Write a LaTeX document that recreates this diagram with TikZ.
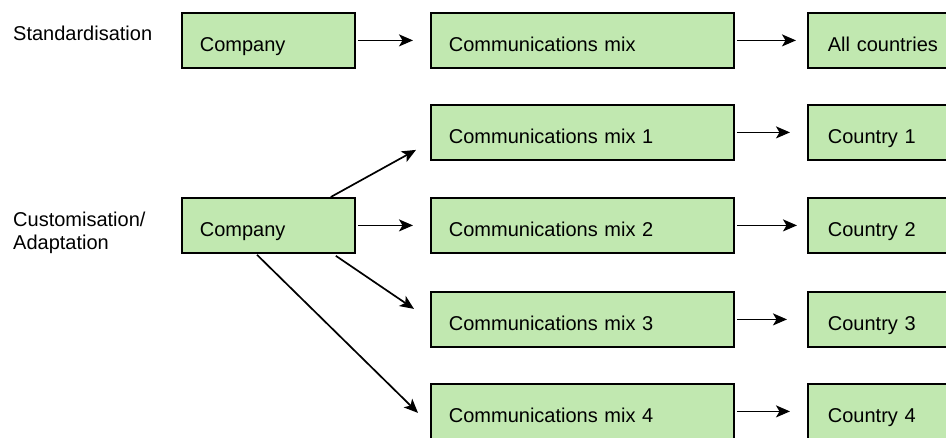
\documentclass[tikz,border=0pt]{standalone}
\usepackage{fontspec}
\setmainfont{Liberation Sans}
\usetikzlibrary{arrows.meta,calc}
\definecolor{boxgreen}{RGB}{193,232,176}
\tikzset{
  box/.style={draw=black, line width=1.8pt, fill=boxgreen, anchor=north west,
    minimum height=55pt, inner xsep=18pt, inner ysep=0pt, align=left,
    text height=22pt, text depth=0pt, font=\fontsize{20}{23}\selectfont},
  companybox/.style={box, minimum width=173pt, text width=137pt},
  mixbox/.style={box, minimum width=303pt, text width=267pt},
  countrybox/.style={box, minimum width=220pt, inner xsep=20pt, text width=180pt},
  rowlabel/.style={anchor=base west, inner sep=0pt, align=left,
    font=\fontsize{20}{23}\selectfont},
  arr/.style={line width=1.7pt, -{Stealth[length=14pt,width=12pt,inset=3.5pt]}}
}
\begin{document}
\begin{tikzpicture}[x=1pt, y=-1pt]
  \path[use as bounding box, clip] (0,0) rectangle (946,437);

  % row labels (base anchor sits on the last line)
  \node[rowlabel] (lstd) at (13,40) {Standardisation};
  \node[rowlabel] (lcus) at (13,249) {Customisation/\\Adaptation};

  % standardisation row
  \node[companybox] (comp1) at (181,12) {Company};
  \node[mixbox] (mixA) at (430,12) {Communications mix};
  \node[countrybox] (allc) at (807,12) {All countries};

  % customisation rows
  \node[companybox] (comp2) at (181,197) {Company};
  \node[mixbox] (mix1) at (430,104) {Communications mix 1};
  \node[mixbox] (mix2) at (430,197) {Communications mix 2};
  \node[mixbox] (mix3) at (430,291) {Communications mix 3};
  \node[mixbox] (mix4) at (430,383) {Communications mix 4};
  \node[countrybox] (ctry1) at (807,104) {Country 1};
  \node[countrybox] (ctry2) at (807,197) {Country 2};
  \node[countrybox] (ctry3) at (807,291) {Country 3};
  \node[countrybox] (ctry4) at (807,383) {Country 4};

  % connectors
  \draw[arr] ([xshift=2pt]comp1.east) -- ([xshift=-17pt]mixA.west);
  \draw[arr] ([xshift=2pt]mixA.east) -- ([xshift=-11pt]allc.west);

  \draw[arr] ($(comp2.north east)+(-25,0)$) -- ($(mix1.west)+(-14,17.5)$);
  \draw[arr] ([xshift=2pt]comp2.east) -- ([xshift=-17pt]mix2.west);
  \draw[arr] ($(comp2.south east)+(-20,2)$) -- ($(mix3.west)+(-16,-10.5)$);
  \draw[arr] ($(comp2.south west)+(76,1)$) -- ($(mix4.west)+(-12,1.5)$);

  \draw[arr] ([xshift=2pt]mix1.east) -- ([xshift=-17pt]ctry1.west);
  \draw[arr] ([xshift=2pt]mix2.east) -- ([xshift=-10pt]ctry2.west);
  \draw[arr] ([xshift=2pt]mix3.east) -- ([xshift=-20pt]ctry3.west);
  \draw[arr] ([xshift=2pt]mix4.east) -- ([xshift=-17pt]ctry4.west);
\end{tikzpicture}
\end{document}
